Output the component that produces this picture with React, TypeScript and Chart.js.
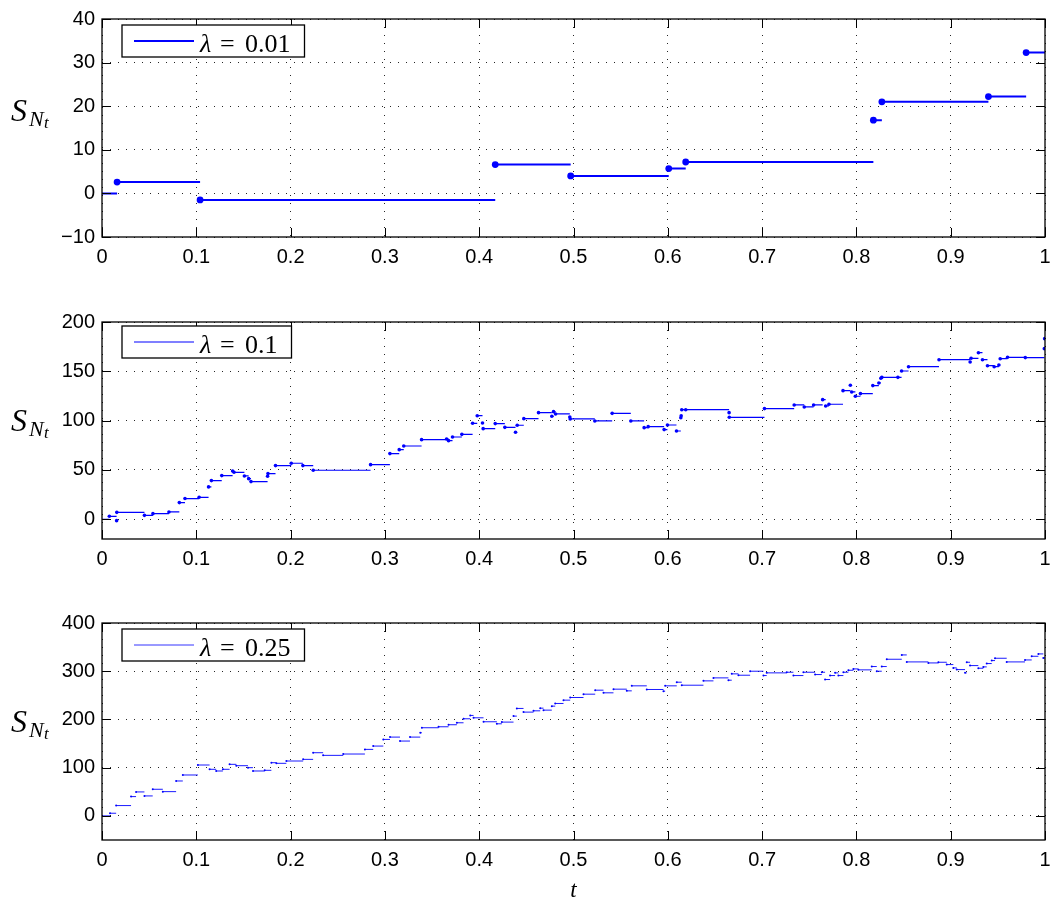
import React, { useEffect, useRef } from "react";
import { Chart, registerables } from "chart.js";

Chart.register(...registerables);

// ---------- data ----------
const xTicks = [0, 0.1, 0.2, 0.3, 0.4, 0.5, 0.6, 0.7, 0.8, 0.9, 1];
const lambdaLabels = ["0.01", "0.1", "0.25"];

const yTicks1 = [-10, 0, 10, 20, 30, 40];
const jumpTimes1 = [0, 0.016, 0.104, 0.417, 0.497, 0.601, 0.619, 0.818, 0.827, 0.94, 0.98];
const jumpValues1 = [0, 2.6, -1.5, 6.6, 4.0, 5.7, 7.2, 16.8, 21.0, 22.2, 32.3];

const yTicks2 = [0, 50, 100, 150, 200];
const jumpTimes2 = [
  0, 0.0078, 0.0155, 0.0157, 0.045, 0.054, 0.071, 0.082, 0.088, 0.103, 0.113, 0.116, 0.127, 0.1385,
  0.14, 0.151, 0.1555, 0.158, 0.1756, 0.176, 0.184, 0.2007, 0.213, 0.224, 0.2848, 0.3053, 0.3152,
  0.32, 0.3389, 0.3654, 0.3675, 0.3717, 0.3816, 0.393, 0.3979, 0.4035, 0.4042, 0.417, 0.4272, 0.4385,
  0.4403, 0.4473, 0.4629, 0.477, 0.4788, 0.481, 0.4961, 0.4965, 0.5226, 0.541, 0.5608, 0.5749,
  0.5792, 0.5961, 0.5996, 0.6092, 0.6138, 0.6142, 0.6148, 0.619, 0.665, 0.6652, 0.7025, 0.734,
  0.7447, 0.7546, 0.7642, 0.7674, 0.7709, 0.7858, 0.7936, 0.795, 0.7989, 0.8043, 0.8174, 0.8238,
  0.8259, 0.827, 0.844, 0.8479, 0.8553, 0.8876, 0.9206, 0.9216, 0.9294, 0.9337, 0.939, 0.9461,
  0.9511, 0.9525, 0.9603, 0.9791, 0.9993, 0.9996,
];
const jumpValues2 = [
  0, 3, -1.4, 7, 4, 5.7, 7.4, 16.9, 21, 22.3, 32.8, 39.2, 44.3, 49, 47.6, 43.9, 41.2, 38.2, 43.6,
  46.3, 54.4, 56.8, 54.4, 49.7, 55.4, 66.6, 70.6, 74.3, 80.7, 81.4, 79.7, 83.4, 86.1, 97.3, 105,
  97.6, 91.9, 97, 93.2, 88.2, 95.3, 102, 108.1, 104.4, 109.1, 106.8, 103.7, 101.7, 99.7, 107.4,
  99.7, 92.9, 93.9, 90.9, 95.6, 89.5, 103, 105, 111.1, 111.1, 108.1, 103.4, 112.2, 115.9, 113.9,
  115.9, 121.3, 114.9, 116.6, 130.4, 135.8, 129.1, 124.7, 127.4, 135.5, 138.2, 142.9, 143.9, 143.9,
  150.3, 154.7, 161.8, 159.5, 163.2, 168.9, 161.8, 155.7, 154.7, 156.4, 162.8, 164.2, 163.9, 173,
  183.1,
];

const yTicks3 = [0, 100, 200, 300, 400];
const jumpTimes3 = [
  0, 0.0085, 0.015, 0.0308, 0.0361, 0.045, 0.0538, 0.0645, 0.0786, 0.0857, 0.1017, 0.1141, 0.1211,
  0.1282, 0.1353, 0.1424, 0.1548, 0.1601, 0.1725, 0.1796, 0.1849, 0.1955, 0.2133, 0.2239, 0.2345,
  0.2558, 0.2788, 0.2876, 0.2983, 0.3054, 0.316, 0.3266, 0.3375, 0.3392, 0.3569, 0.3675, 0.3763,
  0.3834, 0.3905, 0.394, 0.4046, 0.4187, 0.424, 0.4364, 0.4399, 0.447, 0.4576, 0.4647, 0.4682,
  0.477, 0.4806, 0.4894, 0.4965, 0.5106, 0.523, 0.5318, 0.5424, 0.5565, 0.5618, 0.5777, 0.5954,
  0.5972, 0.6095, 0.6148, 0.6378, 0.6484, 0.6643, 0.6678, 0.6749, 0.6873, 0.7014, 0.7049, 0.7261,
  0.7332, 0.7438, 0.7562, 0.7633, 0.7668, 0.7721, 0.7774, 0.7809, 0.7862, 0.7915, 0.7968, 0.8021,
  0.8163, 0.8216, 0.8269, 0.8322, 0.8481, 0.8534, 0.8763, 0.8869, 0.8958, 0.9028, 0.9064, 0.9152,
  0.917, 0.9205, 0.9293, 0.9346, 0.9382, 0.9435, 0.947, 0.9594, 0.9788, 0.9859, 0.993, 0.9982,
];
const jumpValues3 = [
  0, 5.5, 21.4, 40, 49.7, 41.4, 55.2, 50.3, 72.4, 84.8, 105.5, 96.6, 93.1, 96.6, 106.9, 104.1, 100,
  93.1, 94.5, 110.3, 109, 113.8, 117.2, 131, 125.5, 128.3, 137.9, 144.8, 158.6, 163.4, 155.2, 163.4,
  172.4, 182.8, 184.8, 189, 193.1, 201.4, 208.3, 203.4, 195.2, 191, 194.5, 206.9, 222.8, 215.2,
  217.9, 223.4, 219.3, 227.6, 233.1, 240, 245.5, 252.4, 260.7, 255.2, 262.8, 259.3, 269.7, 262.1,
  258.6, 269.7, 277.2, 271, 280, 286.2, 281.4, 294.5, 291.7, 300, 291, 296.6, 297.9, 291, 297.9,
  293.1, 297.9, 282.8, 291, 296.6, 291, 297.9, 302, 304.8, 302.8, 309.7, 300, 309.7, 324.8, 333.8,
  319.3, 317.2, 318.6, 313.8, 306.9, 303.4, 296.6, 318.6, 311.7, 306.2, 309, 315.9, 322.1, 326.9,
  319.3, 323.4, 331, 335.9, 327.6,
];

// ---------- styling / layout ----------
const BLUE = "#0000ff";
const SANS = "'Liberation Sans', Arial, Helvetica, sans-serif";
const SERIF = "'Liberation Serif', 'DejaVu Serif', serif";
const PAD_TOP = 12;
const X_AXIS_H = 40;
const Y_AXIS_W = 102;
const PAGE_W = 1050;
const PAGE_H = 898;
const LEGEND_FONT = 26;

type PanelCfg = {
  times: number[];
  values: number[];
  yTicks: number[];
  yMin: number;
  yMax: number;
  lambda: string;
  plotTop: number;
  plotH: number;
  lineW: number;
  dotR: number;
  legendLineW: number;
  legendTop: number;
  ylabelBase: number;
  xlabel: boolean;
};

const panels: PanelCfg[] = [
  {
    times: jumpTimes1, values: jumpValues1, yTicks: yTicks1, yMin: -10, yMax: 40,
    lambda: lambdaLabels[0], plotTop: 19, plotH: 218, lineW: 2, dotR: 3.4,
    legendLineW: 2, legendTop: 6, ylabelBase: 101.5, xlabel: false,
  },
  {
    times: jumpTimes2, values: jumpValues2, yTicks: yTicks2, yMin: -20, yMax: 200,
    lambda: lambdaLabels[1], plotTop: 322, plotH: 217, lineW: 1.2, dotR: 1.8,
    legendLineW: 1.1, legendTop: 4, ylabelBase: 108.5, xlabel: false,
  },
  {
    times: jumpTimes3, values: jumpValues3, yTicks: yTicks3, yMin: -50, yMax: 400,
    lambda: lambdaLabels[2], plotTop: 623, plotH: 217, lineW: 0.9, dotR: 1,
    legendLineW: 0.8, legendTop: 6, ylabelBase: 108.5, xlabel: true,
  },
];

const fmtTick = (v: number) => (v < 0 ? "\u2212" + Math.abs(v) : String(v));

function Panel({ cfg }: { cfg: PanelCfg }) {
  const ref = useRef<HTMLCanvasElement>(null);
  const canvasTop = cfg.plotTop - PAD_TOP;
  const extraBottom = cfg.xlabel ? PAGE_H - canvasTop - PAD_TOP - cfg.plotH - X_AXIS_H : 0;
  const height = PAD_TOP + cfg.plotH + X_AXIS_H + extraBottom;

  useEffect(() => {
    const canvas = ref.current;
    if (!canvas) return;
    const n = Math.min(cfg.times.length, cfg.values.length);
    const segs: { x: number; y: number | null }[] = [];
    const dots: { x: number; y: number }[] = [];
    for (let i = 0; i < n; i++) {
      const t0 = cfg.times[i];
      const t1 = i + 1 < n ? cfg.times[i + 1] : 1;
      segs.push({ x: t0, y: cfg.values[i] }, { x: t1, y: cfg.values[i] }, { x: t1, y: null });
      if (i > 0) dots.push({ x: t0, y: cfg.values[i] });
    }

    const overlay = {
      id: "matlabOverlay",
      afterDraw(chart: any) {
        const { ctx, chartArea: a } = chart;
        const xs = chart.scales.x;
        const ys = chart.scales.y;
        ctx.save();
        ctx.setLineDash([]);
        // inward tick marks on all four sides
        const TL = 9;
        ctx.strokeStyle = "#000";
        ctx.lineWidth = 1;
        ctx.beginPath();
        xTicks.forEach((v) => {
          const px = Math.round(xs.getPixelForValue(v)) + 0.5;
          ctx.moveTo(px, a.bottom);
          ctx.lineTo(px, a.bottom - TL);
          ctx.moveTo(px, a.top);
          ctx.lineTo(px, a.top + TL);
        });
        cfg.yTicks.forEach((v) => {
          const py = Math.round(ys.getPixelForValue(v)) + 0.5;
          ctx.moveTo(a.left, py);
          ctx.lineTo(a.left + TL, py);
          ctx.moveTo(a.right, py);
          ctx.lineTo(a.right - TL, py);
        });
        ctx.stroke();
        // axes box
        ctx.lineWidth = 1.3;
        ctx.strokeRect(a.left, a.top, a.right - a.left, a.bottom - a.top);

        // legend
        const bx = a.left + 20;
        const by = a.top + cfg.legendTop;
        const bh = 32;
        ctx.font = `${LEGEND_FONT}px ${SERIF}`;
        const numW = ctx.measureText(cfg.lambda).width;
        const bw = 123 + numW + 14;
        ctx.fillStyle = "#fff";
        ctx.fillRect(bx, by, bw, bh);
        ctx.strokeStyle = "#000";
        ctx.lineWidth = 1.3;
        ctx.strokeRect(bx, by, bw, bh);
        ctx.strokeStyle = BLUE;
        ctx.lineWidth = cfg.legendLineW;
        ctx.beginPath();
        ctx.moveTo(bx + 12, by + 16);
        ctx.lineTo(bx + 72, by + 16);
        ctx.stroke();
        ctx.fillStyle = "#000";
        ctx.textAlign = "left";
        ctx.textBaseline = "alphabetic";
        ctx.font = `italic ${LEGEND_FONT}px ${SERIF}`;
        ctx.fillText("\u03bb", bx + 78, by + 26.5);
        ctx.font = `${LEGEND_FONT}px ${SERIF}`;
        ctx.fillText("=", bx + 98, by + 26.5);
        ctx.fillText(cfg.lambda, bx + 123, by + 26.5);

        // y label S_{N_t}
        const yb = a.top + cfg.ylabelBase;
        ctx.font = `italic 32px ${SERIF}`;
        ctx.fillText("S", 11, yb);
        ctx.font = `italic 22px ${SERIF}`;
        ctx.fillText("N", 29, yb + 5);
        ctx.font = `italic 17px ${SERIF}`;
        ctx.fillText("t", 44, yb + 7);

        if (cfg.xlabel) {
          ctx.font = `italic 23px ${SERIF}`;
          ctx.textAlign = "center";
          ctx.fillText("t", (a.left + a.right) / 2, chart.height - 1);
        }
        ctx.restore();
      },
    };

    const tickFont = { family: SANS, size: 20 };

    const chart = new Chart(canvas, {
      type: "scatter",
      data: {
        datasets: [
          {
            data: segs as any,
            showLine: true,
            borderColor: BLUE,
            borderWidth: cfg.lineW,
            pointRadius: 0,
            pointHoverRadius: 0,
            spanGaps: false,
            tension: 0,
            fill: false,
          },
          {
            data: dots,
            showLine: false,
            backgroundColor: BLUE,
            borderColor: BLUE,
            borderWidth: 0,
            pointRadius: cfg.dotR,
            pointHoverRadius: cfg.dotR,
          },
        ],
      },
      options: {
        animation: false,
        responsive: false,
        devicePixelRatio: 1,
        events: [],
        layout: { padding: { left: 0, right: PAGE_W - 1045, top: PAD_TOP, bottom: extraBottom } },
        plugins: {
          legend: { display: false },
          tooltip: { enabled: false },
        },
        scales: {
          x: {
            type: "linear",
            min: 0,
            max: 1,
            afterBuildTicks: (s: any) => {
              s.ticks = xTicks.map((v) => ({ value: v }));
            },
            afterFit: (s: any) => {
              s.height = X_AXIS_H;
              s.paddingLeft = 0;
              s.paddingRight = 0;
            },
            ticks: {
              padding: 8.6,
              font: tickFont,
              color: "#000",
              autoSkip: false,
              maxRotation: 0,
              callback: (v: any) => fmtTick(Number(v)),
            },
            grid: { color: "rgba(0,0,0,0.85)", lineWidth: 1, drawTicks: false },
            border: { display: false, dash: [1, 7] },
          },
          y: {
            type: "linear",
            min: cfg.yMin,
            max: cfg.yMax,
            afterBuildTicks: (s: any) => {
              s.ticks = cfg.yTicks.map((v) => ({ value: v }));
            },
            afterFit: (s: any) => {
              s.width = Y_AXIS_W;
              s.paddingTop = 0;
              s.paddingBottom = 0;
            },
            ticks: {
              padding: 7,
              font: tickFont,
              color: "#000",
              autoSkip: false,
              callback: (v: any) => fmtTick(Number(v)),
            },
            grid: { color: "rgba(0,0,0,0.85)", lineWidth: 1, drawTicks: false },
            border: { display: false, dash: [1, 7] },
          },
        },
      } as any,
      plugins: [overlay],
    });
    return () => chart.destroy();
  }, [cfg]);

  return (
    <canvas
      ref={ref}
      width={PAGE_W}
      height={height}
      style={{ position: "absolute", left: 0, top: canvasTop, width: PAGE_W, height, display: "block" }}
    />
  );
}

export default function App() {
  return (
    <div
      style={{
        position: "absolute",
        left: 0,
        top: 0,
        width: PAGE_W,
        height: PAGE_H,
        background: "#fff",
        overflow: "hidden",
      }}
    >
      {panels.map((p, i) => (
        <Panel key={i} cfg={p} />
      ))}
    </div>
  );
}
